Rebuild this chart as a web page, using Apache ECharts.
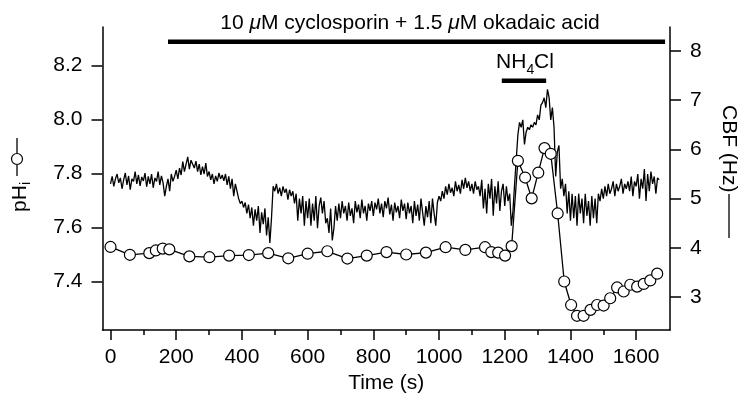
<!DOCTYPE html>
<html><head><meta charset="utf-8">
<script src="https://cdn.jsdelivr.net/npm/echarts@6/dist/echarts.min.js"></script>
<style>html,body{margin:0;padding:0;background:#fff}#c{width:739px;height:401px}</style>
</head><body><div id="c"></div>
<script>
// ---- data ----
const phTime = [0,59,118,138,159,179,240,301,361,421,480,541,600,660,721,780,840,900,960,1020,1080,1140,1159,1180,1201,1221,1240,1262,1282,1302,1321,1340,1361,1381,1402,1420,1440,1461,1481,1501,1521,1542,1562,1582,1603,1623,1643,1664];
const phValue = [7.528,7.499,7.505,7.515,7.522,7.519,7.493,7.490,7.496,7.498,7.505,7.486,7.503,7.512,7.485,7.496,7.509,7.500,7.507,7.527,7.517,7.527,7.509,7.507,7.496,7.531,7.847,7.785,7.708,7.803,7.894,7.873,7.652,7.400,7.313,7.273,7.273,7.295,7.313,7.311,7.338,7.378,7.363,7.388,7.381,7.391,7.404,7.429];
const cbfSampleStep = 5; // s between CBF samples, starting at t = 0
const cbfValue = [
 5.30,5.45,5.25,5.40,5.50,5.32,5.42,5.20,5.38,5.52,5.28,5.46,5.18,5.40,5.35,5.55,5.30,5.48,5.26,5.44,
 5.36,5.52,5.24,5.45,5.30,5.50,5.22,5.42,5.35,5.55,5.28,5.46,5.32,5.05,5.25,5.40,5.15,5.50,5.35,5.45,
 5.58,5.40,5.62,5.48,5.75,5.55,5.70,5.85,5.60,5.78,5.82,5.62,5.76,5.55,5.70,5.48,5.65,5.50,5.72,5.45,
 5.55,5.38,5.50,5.30,5.46,5.35,5.52,5.40,5.48,5.36,5.50,5.28,5.45,5.20,5.40,5.05,5.30,5.15,5.00,4.90,
 4.95,4.82,4.92,4.70,4.88,4.60,4.82,4.45,4.78,4.55,4.85,4.30,4.72,4.48,4.80,4.25,4.62,4.10,4.60,5.25,
 5.15,5.30,5.10,5.22,5.05,5.25,5.12,5.20,4.98,5.18,5.05,5.15,4.90,5.10,4.55,5.00,4.70,5.05,4.45,4.95,
 4.60,5.00,4.45,4.90,4.55,5.05,4.40,4.85,5.02,4.70,4.95,4.50,4.60,4.30,4.80,4.15,4.40,4.85,4.55,4.90,
 4.60,4.95,4.70,4.85,4.55,4.92,4.65,4.80,4.50,4.95,4.72,4.88,4.60,4.98,4.70,4.85,4.55,4.90,4.75,4.95,
 4.65,4.92,4.78,5.00,4.70,4.90,4.62,4.95,4.80,5.02,4.68,4.88,4.55,4.92,4.72,4.85,4.60,4.98,4.75,4.90,
 4.58,4.92,4.70,4.85,4.50,4.95,4.65,4.88,4.55,5.00,4.72,4.45,4.85,4.62,4.95,4.50,5.00,4.70,4.45,4.92,
 5.05,4.95,5.15,5.00,5.25,5.08,5.30,5.12,5.22,5.05,5.35,5.15,5.28,5.10,5.38,5.20,5.42,5.22,5.35,5.15,
 5.30,5.10,5.35,5.18,5.25,5.05,5.38,4.80,5.20,4.70,5.30,5.00,5.40,4.65,5.25,4.90,5.35,4.75,5.15,5.30,
 4.85,5.25,4.95,5.10,4.45,4.75,5.30,5.80,6.30,6.55,6.45,6.60,6.10,6.35,6.45,6.40,6.50,6.45,6.55,6.50,
 6.70,6.60,6.90,6.95,7.05,6.85,7.22,7.05,6.60,6.85,6.45,5.45,5.95,6.08,5.20,5.40,5.05,5.30,4.70,5.15,
 4.55,5.10,4.60,5.05,4.45,5.10,4.70,5.00,4.50,5.10,4.65,4.95,4.45,5.05,4.60,5.00,4.50,5.10,4.95,5.20,
 5.00,5.25,5.05,5.30,5.10,5.20,5.35,5.05,5.30,5.15,5.25,5.40,5.10,5.30,5.20,5.35,5.15,5.45,5.05,5.35,
 5.25,5.50,5.00,5.40,5.20,5.60,4.95,5.50,5.15,5.55,5.30,5.45,5.10,5.42,5.38
];
const drugSpan = [175, 1688];   // cyclosporin + okadaic acid, s
const nh4Span = [1191, 1326];   // NH4Cl, s
const xTicks = [0,200,400,600,800,1000,1200,1400,1600];
const xMinorTicks = [100,300,500,700,900,1100,1300,1500];
const phTicks = [7.4,7.6,7.8,8.0,8.2];
const cbfTicks = [3,4,5,6,7,8];

// ---- chart ----
const FONT = '"Liberation Sans", Arial, sans-serif';
const BLACK = '#000';
const chart = echarts.init(document.getElementById('c'), null, {renderer:'canvas'});
const phData = phTime.map((t,i)=>[t, phValue[i]]);
const cbfData = cbfValue.map((v,i)=>[i*cbfSampleStep, v]);
const drugLevel = 8.19, nh4Level = 7.396; // on CBF axis scale
const axisLine = {show:true, onZero:false, lineStyle:{color:BLACK, width:1.5}};
const option = {
  animation:false,
  backgroundColor:'#fff',
  grid:{left:102.5, right:69, top:27, bottom:71, containLabel:false},
  xAxis:[{
    type:'value', min:-24.4, max:1703, position:'bottom',
    axisLine, splitLine:{show:false},
    axisTick:{show:true, length:10, customValues:xTicks, lineStyle:{color:BLACK, width:1.5}},
    axisLabel:{customValues:xTicks, margin:17, fontSize:21, fontFamily:FONT, color:BLACK,
      formatter:v=>String(v)},
    name:'Time (s)', nameLocation:'middle', nameGap:40,
    nameTextStyle:{fontSize:21, fontFamily:FONT, color:BLACK}
  },{
    type:'value', min:-24.4, max:1703, position:'bottom',
    axisLine:{show:false, onZero:false}, splitLine:{show:false},
    axisTick:{show:true, length:5, customValues:xMinorTicks, lineStyle:{color:BLACK, width:1.5}},
    axisLabel:{show:false}
  }],
  yAxis:[{
    type:'value', min:7.2204, max:8.3426, position:'left',
    axisLine, splitLine:{show:false},
    axisTick:{show:true, length:11, customValues:phTicks, lineStyle:{color:BLACK, width:1.5}},
    axisLabel:{customValues:phTicks, margin:20, fontSize:21, fontFamily:FONT, color:BLACK,
      formatter:v=>v.toFixed(1)}
  },{
    type:'value', min:2.329, max:8.488, position:'right',
    axisLine, splitLine:{show:false},
    axisTick:{show:true, length:11, customValues:cbfTicks, lineStyle:{color:BLACK, width:1.5}},
    axisLabel:{customValues:cbfTicks, margin:20, fontSize:21, fontFamily:FONT, color:BLACK}
  }],
  series:[
    {type:'line', name:'CBF', xAxisIndex:0, yAxisIndex:1, data:cbfData, showSymbol:false,
     lineStyle:{color:BLACK, width:1.3}, z:2},
    {type:'line', name:'pHi', xAxisIndex:0, yAxisIndex:0, data:phData, symbol:'circle', symbolSize:11,
     itemStyle:{color:'#fff', borderColor:BLACK, borderWidth:1.2},
     lineStyle:{color:BLACK, width:1.3}, z:3},
    {type:'line', name:'drug', xAxisIndex:0, yAxisIndex:1, data:drugSpan.map(t=>[t,drugLevel]),
     showSymbol:false, lineStyle:{color:BLACK, width:4.5}, z:4},
    {type:'line', name:'nh4', xAxisIndex:0, yAxisIndex:1, data:nh4Span.map(t=>[t,nh4Level]),
     showSymbol:false, lineStyle:{color:BLACK, width:4.5}, z:4}
  ],
  graphic:[
    {type:'text', x:410, y:23, z:10, style:{
      text:'10 {i|\u03bc}M cyclosporin + 1.5 {i|\u03bc}M okadaic acid',
      fontSize:21, fontFamily:FONT, fill:BLACK, align:'center', verticalAlign:'middle',
      rich:{i:{fontStyle:'italic', fontSize:21, fontFamily:FONT, fill:BLACK}}}},
    {type:'text', x:496, y:62.5, z:10, style:{text:'NH', fontSize:21, fontFamily:FONT, fill:BLACK, align:'left', verticalAlign:'middle'}},
    {type:'text', x:526.5, y:70, z:10, style:{text:'4', fontSize:14, fontFamily:FONT, fill:BLACK, align:'left', verticalAlign:'middle'}},
    {type:'text', x:534, y:62.5, z:10, style:{text:'Cl', fontSize:21, fontFamily:FONT, fill:BLACK, align:'left', verticalAlign:'middle'}},
    // left axis title: pHi —o—
    {type:'group', x:17, y:212, rotation:Math.PI/2, children:[
      {type:'text', x:0, y:3, style:{text:'pH', fontSize:21, fontFamily:FONT, fill:BLACK, align:'left', verticalAlign:'middle'}},
      {type:'text', x:27, y:9, style:{text:'i', fontSize:14, fontFamily:FONT, fill:BLACK, align:'left', verticalAlign:'middle'}},
      {type:'line', shape:{x1:36, y1:0, x2:47, y2:0}, style:{stroke:BLACK, lineWidth:1.3}},
      {type:'circle', shape:{cx:53, cy:0, r:5.5}, style:{fill:'#fff', stroke:BLACK, lineWidth:1.2}},
      {type:'line', shape:{x1:59, y1:0, x2:74, y2:0}, style:{stroke:BLACK, lineWidth:1.3}}
    ]},
    // right axis title: CBF (Hz) ——
    {type:'group', x:729, y:105, rotation:-Math.PI/2, children:[
      {type:'text', x:0, y:0, style:{text:'CBF (Hz)', fontSize:21, fontFamily:FONT, fill:BLACK, align:'left', verticalAlign:'middle'}},
      {type:'line', shape:{x1:89, y1:0, x2:133, y2:0}, style:{stroke:BLACK, lineWidth:1.3}}
    ]}
  ]
};
chart.setOption(option);
</script>
</body></html>
